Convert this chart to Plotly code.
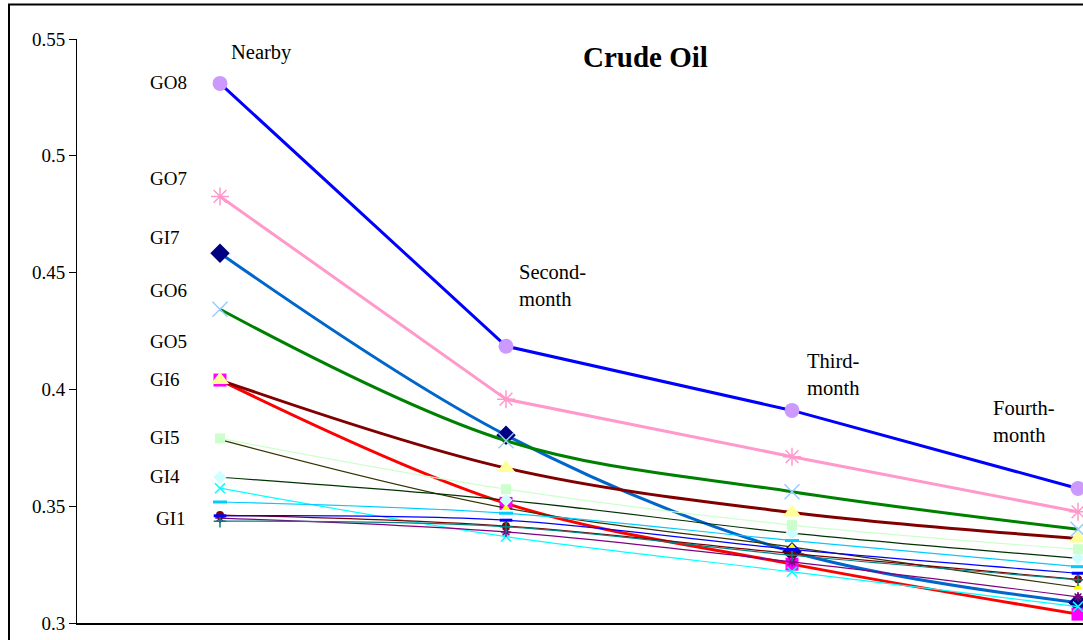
import plotly.graph_objects as go

# ---------------- data ----------------
categories = ["Nearby", "Second-month", "Third-month", "Fourth-month"]

gi7 = [0.4583, 0.3804, 0.3305, 0.3087]   # navy diamond, #0066CC line
s2 = [0.4040, 0.3512, 0.3252, 0.3038]    # magenta square, red line
s3 = [0.3785, 0.3492, 0.3325, 0.3153]    # yellow triangle, olive line
s4 = [0.3577, 0.3370, 0.3219, 0.3070]    # cyan x
s5 = [0.3449, 0.3390, 0.3262, 0.3112]    # purple asterisk
s6 = [0.3462, 0.3415, 0.3297, 0.3187]    # dark red circle
s7 = [0.3436, 0.3412, 0.3290, 0.3185]    # teal plus
s8 = [0.3459, 0.3440, 0.3315, 0.3213]    # blue dash
s9 = [0.3518, 0.3470, 0.3353, 0.3241]    # sky blue dash
s10 = [0.3624, 0.3526, 0.3385, 0.3277]   # light cyan diamond
s11 = [0.3790, 0.3573, 0.3419, 0.3316]   # light green square
s12 = [0.4040, 0.3663, 0.3473, 0.3362]   # light yellow triangle
go6 = [0.4343, 0.3780, 0.3562, 0.3401]   # light blue x, green line
go7 = [0.4826, 0.3958, 0.3712, 0.3476]   # pink asterisk
go8 = [0.5310, 0.4185, 0.3910, 0.3576]   # lavender circle, blue line

row_labels = ["GO8", "GO7", "GI7", "GO6", "GO5", "GI6", "GI5", "GI4", "GI1"]
y_ticks = [0.3, 0.35, 0.4, 0.45, 0.5, 0.55]
y_ticktext = ["0.3", "0.35", "0.4", "0.45", "0.5", "0.55"]

# ---------------- styles ----------------
series = [
    # name, values, line color, line width, shape, symbol, marker color, size, filled
    ("GI7", gi7, "#0066CC", 3, "spline", "diamond", "#000080", 15, True),
    ("S2", s2, "#FF0000", 3, "spline", "square", "#FF00FF", 13, True),
    ("S3", s3, "#333300", 1.2, "spline", "triangle-up", "#FFFF00", 8, True),
    ("S4", s4, "#00FFFF", 1.2, "spline", "x-thin-open", "#00FFFF", 10, False),
    ("S5", s5, "#800080", 1.2, "spline", "asterisk-open", "#800080", 8, False),
    ("S6", s6, "#800000", 1.2, "spline", "circle", "#800000", 8, True),
    ("S7", s7, "#008080", 1.2, "spline", "cross-thin-open", "#008080", 9, False),
    ("S8", s8, "#0000FF", 1.2, "spline", "line-ew-open", "#0000FF", 9, False),
    ("S9", s9, "#00CCFF", 1.2, "spline", "line-ew-open", "#00CCFF", 10, False),
    ("S10", s10, "#003300", 1.2, "spline", "diamond", "#CCFFFF", 10, True),
    ("S11", s11, "#CCFFCC", 1.2, "spline", "square", "#CCFFCC", 10, True),
    ("S12", s12, "#800000", 3, "spline", "triangle-up", "#FFFF99", 16, True),
    ("GO6", go6, "#008000", 3, "spline", "x-thin-open", "#99CCFF", 15, False),
    ("GO7", go7, "#FF99CC", 3, "linear", "asterisk-open", "#FF99CC", 15, False),
    ("GO8", go8, "#0000FF", 3, "linear", "circle", "#CC99FF", 15, True),
]

fig = go.Figure()
for name, vals, lc, lw, shape, sym, mc, ms, filled in series:
    mline_w = 3 if sym.startswith("line-ew") else (1.5 if not filled else 0)
    fig.add_trace(go.Scatter(
        x=list(range(len(categories))), y=vals, name=name,
        mode="lines+markers",
        line=dict(color=lc, width=lw, shape=shape, smoothing=1.0),
        marker=dict(symbol=sym, color=mc, size=ms,
                    line=dict(color=mc, width=mline_w)),
        showlegend=False,
    ))

# ---------------- layout ----------------
L, R, T, B = 77, 1083, 38.5, 623
W, H = 1083, 640


def pp(xp, yp):
    return (xp - L) / (R - L), (B - yp) / (B - T)


FONT = "Liberation Serif, Times New Roman, serif"
annotations = []


def add_text(text, xp, yp, size=19, bold=False, xanchor="left"):
    x, y = pp(xp, yp)
    annotations.append(dict(
        text=f"<b>{text}</b>" if bold else text, x=x, y=y, xref="paper", yref="paper",
        xanchor=xanchor, yanchor="middle", showarrow=False, align="left",
        font=dict(family=FONT, size=size, color="black")))


add_text("Crude Oil", 645, 57, size=29, bold=True, xanchor="center")
add_text("Nearby", 229, 52, size=20.5)
add_text("Second-<br>month", 517, 285, size=20.5)
add_text("Third-<br>month", 805, 374, size=20.5)
add_text("Fourth-<br>month", 991, 421, size=20.5)
label_pos = [(148, 82), (148, 178), (148, 237), (148, 290), (148, 341),
             (148, 379), (148, 437), (148, 476), (154, 518)]
for lab, (xp, yp) in zip(row_labels, label_pos):
    add_text(lab, xp, yp)

bx0, by1 = pp(9, 4)
shapes = [dict(type="rect", xref="paper", yref="paper", x0=bx0, y0=-0.2, x1=1.2, y1=by1,
               line=dict(color="black", width=2), fillcolor="rgba(0,0,0,0)", layer="above")]

fig.update_layout(
    width=W, height=H,
    margin=dict(l=L, r=W - R, t=T, b=H - B, pad=0),
    paper_bgcolor="white", plot_bgcolor="white",
    font=dict(family=FONT, size=19, color="black"),
    xaxis=dict(range=[-0.5, (R - 220) / 286], showgrid=False, zeroline=False,
               showticklabels=False, ticks="", showline=True, linecolor="black",
               linewidth=1.5),
    yaxis=dict(range=[0.3, 0.55], tickvals=y_ticks, ticktext=y_ticktext,
               showgrid=False, zeroline=False, ticks="outside", ticklen=7,
               tickcolor="black", tickwidth=1, showline=True, linecolor="black",
               linewidth=1, tickfont=dict(family=FONT, size=19)),
    annotations=annotations, shapes=shapes,
)

fig.write_html(
    "out.html",
    config={"displayModeBar": False},
    post_script="document.body.style.margin='0';document.body.style.overflow='hidden';",
)
